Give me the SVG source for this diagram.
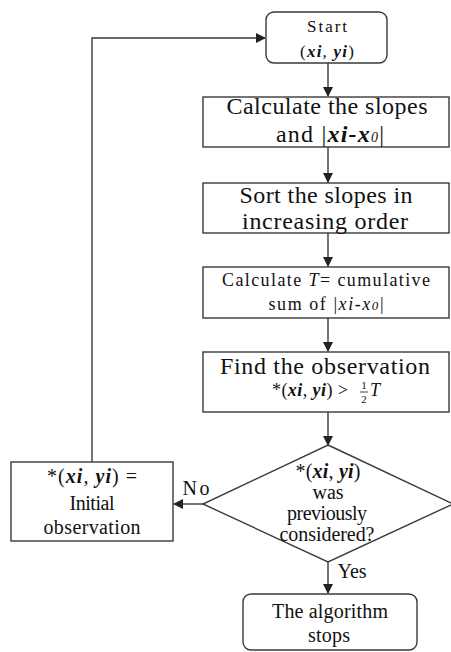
<svg xmlns="http://www.w3.org/2000/svg" width="451" height="652" viewBox="0 0 451 652">
<style>
.box{fill:#fff;stroke:#3a3a3a;stroke-width:1.4}
.ln{fill:none;stroke:#3a3a3a;stroke-width:1.4}
text{font-family:"Liberation Serif","Times New Roman",serif;fill:#111;text-anchor:middle}
.big{font-size:24px}
.mid{font-size:20px}
.sm{font-size:18px}
.st{font-size:17px}
.bi{font-weight:bold;font-style:italic}
.it{font-style:italic}
</style>
<defs>
<marker id="ah" markerWidth="10" markerHeight="10" refX="9" refY="5" orient="auto" markerUnits="userSpaceOnUse">
<path d="M0,0 L10,5 L0,10 Z" fill="#222"/>
</marker>
</defs>
<g id="connectors">
<line class="ln" x1="328" y1="63" x2="328" y2="96" marker-end="url(#ah)"/>
<line class="ln" x1="328" y1="147" x2="328" y2="182" marker-end="url(#ah)"/>
<line class="ln" x1="328" y1="233" x2="328" y2="266" marker-end="url(#ah)"/>
<line class="ln" x1="328" y1="318" x2="328" y2="351" marker-end="url(#ah)"/>
<line class="ln" x1="328" y1="412" x2="328" y2="445" marker-end="url(#ah)"/>
<line class="ln" x1="203" y1="504" x2="174" y2="504" marker-end="url(#ah)"/>
<line class="ln" x1="328" y1="562" x2="328" y2="593" marker-end="url(#ah)"/>
<polyline class="ln" points="92,462 92,38 265,38" marker-end="url(#ah)"/>
<text class="mid" x="196" y="495" textLength="27">No</text>
<text class="mid" x="352" y="578" textLength="29">Yes</text>
</g>
<g id="start">
<rect class="box" x="266" y="12" width="121" height="51" rx="8"/>
<text class="st" x="327" y="32" textLength="40">Start</text>
<text class="st" x="327" y="57" textLength="54">(<tspan class="bi">xi</tspan>, <tspan class="bi">yi</tspan>)</text>
</g>
<g id="calc">
<rect class="box" x="203" y="97" width="246" height="50"/>
<text class="big" x="327" y="114" textLength="201">Calculate the slopes</text>
<text class="big" x="330" y="142" textLength="108">and |<tspan class="bi">xi-x</tspan><tspan class="it" font-size="14">0</tspan>|</text>
</g>
<g id="sort">
<rect class="box" x="203" y="183" width="246" height="50"/>
<text class="big" x="326" y="203" textLength="173">Sort the slopes in</text>
<text class="big" x="325" y="229" textLength="166">increasing  order</text>
</g>
<g id="cumsum">
<rect class="box" x="203" y="267" width="246" height="51"/>
<text class="sm" x="326" y="286" textLength="208">Calculate  <tspan class="it">T</tspan>= cumulative</text>
<text class="sm" x="326" y="310" textLength="115">sum  of |<tspan class="it">xi-x</tspan><tspan class="it" font-size="13">0</tspan>|</text>
</g>
<g id="find">
<rect class="box" x="203" y="352" width="246" height="60"/>
<text class="big" x="325" y="374" textLength="210">Find the observation</text>
<text class="sm" x="310" y="396" textLength="76">*(<tspan class="bi">xi</tspan>, <tspan class="bi">yi</tspan>) &gt;</text>
<text x="364" y="389" font-size="11">1</text>
<line x1="360" y1="392" x2="368" y2="392" stroke="#111" stroke-width="0.8"/>
<text x="364" y="403" font-size="11">2</text>
<text class="sm it" x="375" y="396">T</text>
</g>
<g id="decision">
<polygon class="box" points="328,445 453,504 328,562 203,504"/>
<text class="mid" x="328" y="478" textLength="65">*(<tspan class="bi">xi</tspan>, <tspan class="bi">yi</tspan>)</text>
<text class="mid" x="328" y="499" textLength="31">was</text>
<text class="mid" x="327" y="520" textLength="80">previously</text>
<text class="mid" x="327" y="541" textLength="95">considered?</text>
</g>
<g id="initial">
<rect class="box" x="11" y="462" width="162" height="79"/>
<text class="mid" x="92" y="483" textLength="90">*(<tspan class="bi">xi</tspan>, <tspan class="bi">yi</tspan>) =</text>
<text class="mid" x="92" y="510" textLength="45">Initial</text>
<text class="mid" x="92" y="534" textLength="97">observation</text>
</g>
<g id="end">
<rect class="box" x="243" y="594" width="174" height="56" rx="8"/>
<text class="mid" x="330" y="618" textLength="116">The  algorithm</text>
<text class="mid" x="329" y="642" textLength="42">stops</text>
</g>
</svg>
